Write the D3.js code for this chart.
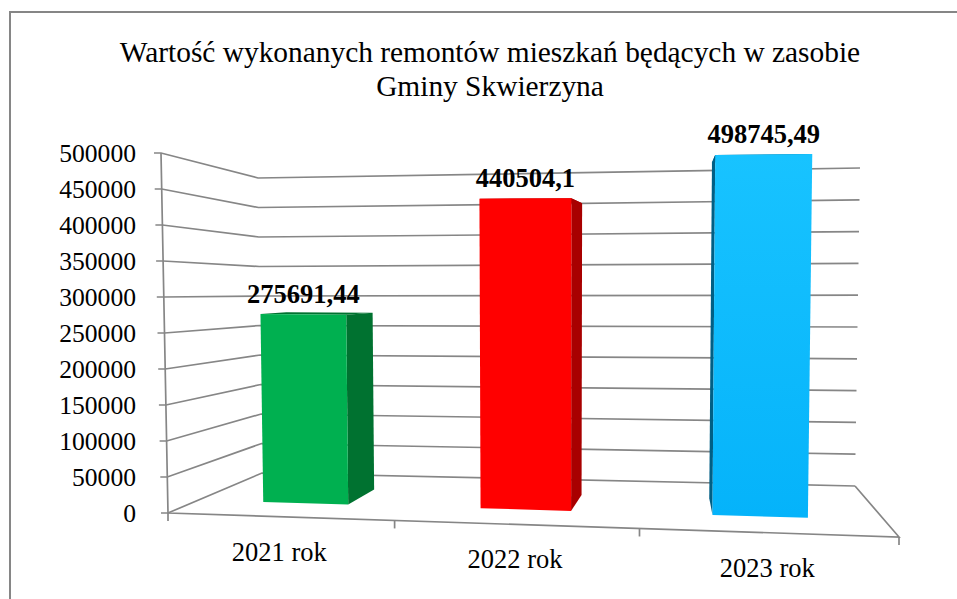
<!DOCTYPE html>
<html lang="pl">
<head>
<meta charset="utf-8">
<style>
html,body{margin:0;padding:0;background:#fff;overflow:hidden}
svg{display:block}
text{font-family:"Liberation Serif","Times New Roman",serif;fill:#000}
</style>
<script src="https://cdn.jsdelivr.net/npm/d3@7/dist/d3.min.js"></script>
</head>
<body>
<svg id="chart" width="957" height="599"></svg>
<script>
const titleLines = ["Wartość wykonanych remontów mieszkań będących w zasobie", "Gminy Skwierzyna"];
const categories = ["2021 rok", "2022 rok", "2023 rok"];
const values = [275691.44, 440504.1, 498745.49];
const valueLabels = ["275691,44", "440504,1", "498745,49"];
const tickValues = [0, 50000, 100000, 150000, 200000, 250000, 300000, 350000, 400000, 450000, 500000];
const frontColors = ["#00B050", "#FF0000", "url(#blueFace)"];
const sideColors = ["#007230", "#A80000", "#005F85"];

const svg = d3.select("#chart");
const GRID = "#868686";
const VMAX = 500000;
const scale = (a, b) => d3.scaleLinear().domain([0, VMAX]).range([a, b]);

// corners of the 3D box as scales of value
const FLX = scale(168, 161), FLY = scale(513, 153);
const FRX = scale(899, 905), FRY = scale(537, 147);
const BLX = scale(262, 258), BLY = scale(473, 178);
const BRX = scale(855, 860), BRY = scale(486, 168);

const lerp = d3.interpolateNumber;
function project(u, v, d) {
  const lx = lerp(FLX(v), BLX(v))(d), ly = lerp(FLY(v), BLY(v))(d);
  const rx = lerp(FRX(v), BRX(v))(d), ry = lerp(FRY(v), BRY(v))(d);
  return [lerp(lx, rx)(u), lerp(ly, ry)(u)];
}
// floor point: x taken at depth dx, y taken at depth dy
const floorPoint = (u, dx, dy) => [project(u, 0, dx)[0], project(u, 0, dy)[1]];

// category band along the floor, with perspective warp for front / back of bars
const band = d3.scaleBand().domain(categories).range([0, 1]).paddingInner(0.6).paddingOuter(0.3);
const warpTick = d3.scaleLinear().domain([0, 1/3, 2/3, 1]).range([0, 0.31, 0.645, 1]);
const warpFront = d3.scaleLinear().domain([0, 0.1, 7/30, 13/30, 17/30, 23/30, 0.9, 1]).range([0, 0.103, 0.225, 0.415, 0.545, 0.748, 0.885, 1]);
const warpBack  = d3.scaleLinear().domain([0, 7/30, 17/30, 23/30, 0.9, 1]).range([0, 0.231, 0.551, 0.748, 0.888, 1]);
const DF = 0.25, DB = 0.6, DFB = 0.33, DBB = 0.68;

const defs = svg.append("defs");
const grad = defs.append("linearGradient").attr("id", "blueFace").attr("x1", 0).attr("y1", 0).attr("x2", 0).attr("y2", 1);
grad.append("stop").attr("offset", 0).attr("stop-color", "#18C3FF");
grad.append("stop").attr("offset", 1).attr("stop-color", "#05B3FA");

// chart frame
svg.append("path").attr("d", d3.line()([[10, 599], [10, 12], [957, 12]]))
  .attr("fill", "none").attr("stroke", GRID).attr("stroke-width", 2);

// title
svg.append("g").selectAll("text").data(titleLines).join("text")
  .attr("x", 490).attr("y", (d, i) => 62 + i * 34)
  .attr("text-anchor", "middle").attr("font-size", 29.4).text(d => d);

// gridlines: tick stub -> back-left -> back-right
const line = d3.line();
svg.append("g").selectAll("path").data(tickValues).join("path")
  .attr("d", v => line([[FLX(v) - 7, FLY(v)], [FLX(v), FLY(v)], [BLX(v), BLY(v)], [BRX(v), BRY(v)]]))
  .attr("fill", "none").attr("stroke", GRID).attr("stroke-width", 1.7);

// axes and floor
svg.append("path").attr("d", line([[FLX(VMAX), FLY(VMAX)], [FLX(0), FLY(0)], [FRX(0), FRY(0)], [BRX(0), BRY(0)]]))
  .attr("fill", "none").attr("stroke", GRID).attr("stroke-width", 1.7);

// category ticks
const tickU = [0, 1/3, 2/3, 1];
svg.append("g").selectAll("path").data(tickU).join("path")
  .attr("d", t => { const p = project(warpTick(t), 0, 0); return line([p, [p[0], p[1] + 8]]); })
  .attr("fill", "none").attr("stroke", GRID).attr("stroke-width", 1.7);

// value tick labels
svg.append("g").selectAll("text").data(tickValues).join("text")
  .attr("x", 136).attr("y", v => FLY(v) + 9)
  .attr("text-anchor", "end").attr("font-size", 25.6).text(d => d);

// bars
const bars = svg.append("g").selectAll("g").data(categories).join("g");
function corners(cat, i) {
  const u0 = band(cat), u1 = u0 + band.bandwidth(), v = values[i];
  return {
    fbl: floorPoint(warpFront(u0), DF, DFB), fbr: floorPoint(warpFront(u1), DF, DFB),
    ftl: project(warpFront(u0), v, DF), ftr: project(warpFront(u1), v, DF),
    bbl: floorPoint(warpBack(u0), DB, DBB), bbr: floorPoint(warpBack(u1), DB, DBB),
    btl: project(warpBack(u0), v, DB), btr: project(warpBack(u1), v, DB)
  };
}
const poly = pts => line(pts) + "Z";
bars.each(function (cat, i) {
  const c = corners(cat, i), g = d3.select(this);
  const side = i < 2 ? [c.ftr, c.btr, c.bbr, c.fbr] : [c.ftl, c.btl, c.bbl, c.fbl];
  g.append("path").attr("d", poly(side)).attr("fill", sideColors[i]);
  g.append("path").attr("d", poly([c.ftl, c.ftr, c.btr, c.btl])).attr("fill", sideColors[i]);
  g.append("path").attr("d", poly([c.ftl, c.ftr, c.fbr, c.fbl])).attr("fill", frontColors[i]);
});

// value labels
svg.append("g").selectAll("text").data(categories).join("text")
  .attr("x", (cat, i) => { const c = corners(cat, i); return (c.ftl[0] + c.ftr[0]) / 2; })
  .attr("y", (cat, i) => { const c = corners(cat, i); return Math.min(c.ftl[1], c.ftr[1]) - 11; })
  .attr("text-anchor", "middle").attr("font-size", 26.5).attr("font-weight", "bold")
  .text((d, i) => valueLabels[i]);

// category labels
svg.append("g").selectAll("text").data(categories).join("text")
  .attr("x", (cat, i) => (project(warpTick(tickU[i]), 0, 0)[0] + project(warpTick(tickU[i + 1]), 0, 0)[0]) / 2 - 2)
  .attr("y", (cat, i) => { const m = (tickU[i] + tickU[i + 1]) / 2; return project(warpTick(m), 0, 0)[1] + 44; })
  .attr("text-anchor", "middle").attr("font-size", 26.5).text(d => d);
</script>
</body>
</html>
